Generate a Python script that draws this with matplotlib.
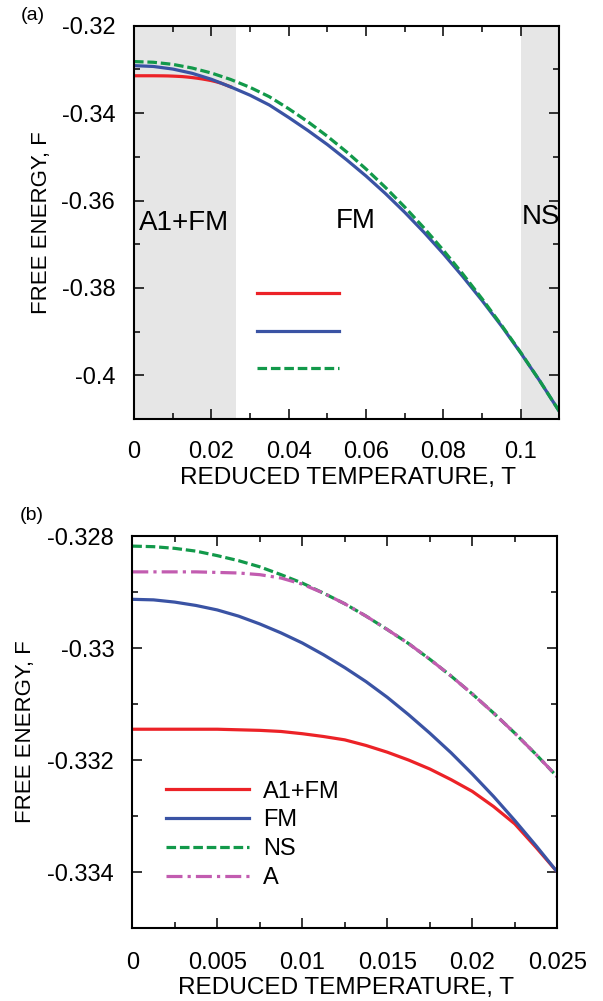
import matplotlib
matplotlib.use('Agg')
import matplotlib.pyplot as plt
from matplotlib.ticker import FixedLocator, MultipleLocator

plt.rcParams['font.family'] = ['Liberation Sans', 'DejaVu Sans']

# panel (a): wide temperature range
t_a = [0, 0.005, 0.01, 0.015, 0.02, 0.025, 0.03, 0.035, 0.04, 0.045, 0.05,
       0.055, 0.06, 0.065, 0.07, 0.075, 0.08, 0.085, 0.09, 0.095, 0.1,
       0.105, 0.11]
fm_a = [-0.32913, -0.32932, -0.32991, -0.33088, -0.33225, -0.3340, -0.3359,
        -0.33815, -0.3410, -0.3440, -0.3472, -0.3507, -0.3544, -0.3584,
        -0.3627, -0.3673, -0.3722, -0.3774, -0.3829, -0.3887, -0.3949,
        -0.4014, -0.4083]
ns_a = [-0.32820, -0.32836, -0.32884, -0.32967, -0.33082, -0.3323, -0.3341,
        -0.33625, -0.3390, -0.3420, -0.3453, -0.3489, -0.3528, -0.3570,
        -0.3615, -0.3663, -0.3714, -0.3768, -0.3825, -0.3885, -0.3948,
        -0.4014, -0.4083]

# panel (b): low temperature close-up
t_b = [0, 0.00125, 0.0025, 0.00375, 0.005, 0.00625, 0.0075, 0.00875, 0.01,
       0.01125, 0.0125, 0.01375, 0.015, 0.01625, 0.0175, 0.01875, 0.02,
       0.02125, 0.0225, 0.02375, 0.025]
a1fm_b = [-0.33145, -0.33145, -0.33145, -0.33145, -0.33145, -0.33146,
          -0.33147, -0.33149, -0.33153, -0.33158, -0.33164, -0.33174,
          -0.33186, -0.33200, -0.33216, -0.33235, -0.33256, -0.33283,
          -0.33314, -0.33356, -0.33400]
fm_b = [-0.32913, -0.32914, -0.32918, -0.32924, -0.32932, -0.32943, -0.32957,
        -0.32973, -0.32991, -0.33012, -0.33035, -0.33060, -0.33088, -0.33119,
        -0.33152, -0.33187, -0.33225, -0.33265, -0.33308, -0.33353, -0.33400]
ns_b = [-0.32818, -0.32819, -0.32822, -0.32827, -0.32835, -0.32844, -0.32855,
        -0.32869, -0.32884, -0.32902, -0.32921, -0.32943, -0.32967, -0.32992,
        -0.33020, -0.33050, -0.33082, -0.33116, -0.33152, -0.33190, -0.33230]
a_b = [-0.32864, -0.32864, -0.32864, -0.32864, -0.32865, -0.32866, -0.32869,
       -0.32875, -0.32886, -0.32902, -0.32921, -0.32943, -0.32967, -0.32992,
       -0.33020, -0.33050, -0.33082, -0.33116, -0.33152, -0.33190, -0.33230]

labels = ['A1+FM', 'FM', 'NS', 'A']
xticks_a = [0, 0.02, 0.04, 0.06, 0.08, 0.1]
xlabels_a = ['0', '0.02', '0.04', '0.06', '0.08', '0.1']
yticks_a = [-0.32, -0.34, -0.36, -0.38, -0.40]
ylabels_a = ['-0.32', '-0.34', '-0.36', '-0.38', '-0.4']
xticks_b = [0, 0.005, 0.01, 0.015, 0.02, 0.025]
xlabels_b = ['0', '0.005', '0.01', '0.015', '0.02', '0.025']
yticks_b = [-0.328, -0.33, -0.332, -0.334]
ylabels_b = ['-0.328', '-0.33', '-0.332', '-0.334']

RED = '#ec2227'
BLUE = '#3a53a4'
GREEN = '#12994a'
MAG = '#c25cb0'
SHADE = '#e6e6e6'
LW = 2.3
FS = 17


def style_axes(ax, xpad, ypad):
    for s in ax.spines.values():
        s.set_linewidth(1.5)
    ax.tick_params(which='both', direction='in', top=True, right=True,
                   width=1.1, labelsize=FS)
    ax.tick_params(which='major', length=7)
    ax.tick_params(which='minor', length=4)
    ax.tick_params(axis='x', pad=xpad)
    ax.tick_params(axis='y', pad=ypad)


fig = plt.figure(figsize=(6.03, 10.01), dpi=100)

# ---- panel (a)
ax1 = fig.add_axes([0.2222, 0.5814, 0.7056, 0.3929])
ax1.axvspan(0, 0.0265, color=SHADE, lw=0, zorder=0)
ax1.axvspan(0.1, 0.11, color=SHADE, lw=0, zorder=0)
l1, = ax1.plot(t_b, a1fm_b, color=RED, lw=LW)
l2, = ax1.plot(t_a, fm_a, color=BLUE, lw=LW)
l3, = ax1.plot(t_a, ns_a, color=GREEN, lw=LW, dashes=(3, 1.2))
ax1.set_xlim(0, 0.11)
ax1.set_ylim(-0.41, -0.32)
ax1.xaxis.set_major_locator(FixedLocator(xticks_a))
ax1.set_xticklabels(xlabels_a)
ax1.xaxis.set_minor_locator(MultipleLocator(0.01))
ax1.yaxis.set_major_locator(FixedLocator(yticks_a))
ax1.set_yticklabels(ylabels_a)
ax1.yaxis.set_minor_locator(MultipleLocator(0.01))
style_axes(ax1, 16, 13.5)
ax1.set_xlabel('REDUCED TEMPERATURE, T', fontsize=17.6)
ax1.set_ylabel('FREE ENERGY, F', fontsize=16)
ax1.xaxis.set_label_coords(0.503, -0.122)
ax1.yaxis.set_label_coords(-0.193, 0.5)
ax1.text(0.0129, -0.3652, 'A1+FM', fontsize=20, ha='center', va='center')
ax1.text(0.0574, -0.3646, 'FM', fontsize=20, ha='center', va='center')
ax1.text(0.1052, -0.3638, 'NS', fontsize=20, ha='center', va='center')
ax1.legend([l1, l2, l3], ['', '', ''], loc='upper left',
           bbox_to_anchor=(0.288, 0.342), frameon=False, fontsize=FS,
           borderpad=0, borderaxespad=0, handlelength=3.5,
           labelspacing=0.66, handletextpad=0.6)

# ---- panel (b)
ax2 = fig.add_axes([0.2194, 0.0729, 0.7048, 0.3916])
h1, = ax2.plot(t_b, a1fm_b, color=RED, lw=LW)
h2, = ax2.plot(t_b, fm_b, color=BLUE, lw=LW)
h3, = ax2.plot(t_b, ns_b, color=GREEN, lw=LW, dashes=(3, 1.2))
h4, = ax2.plot(t_b, a_b, color=MAG, lw=LW, dashes=(5, 1.6, 1, 1.6))
ax2.set_xlim(0, 0.025)
ax2.set_ylim(-0.335, -0.328)
ax2.xaxis.set_major_locator(FixedLocator(xticks_b))
ax2.set_xticklabels(xlabels_b)
ax2.xaxis.set_minor_locator(MultipleLocator(0.0025))
ax2.yaxis.set_major_locator(FixedLocator(yticks_b))
ax2.set_yticklabels(ylabels_b)
ax2.yaxis.set_minor_locator(MultipleLocator(0.001))
style_axes(ax2, 17, 13)
ax2.set_xlabel('REDUCED TEMPERATURE, T', fontsize=17.6)
ax2.set_ylabel('FREE ENERGY, F', fontsize=16)
ax2.xaxis.set_label_coords(0.502, -0.125)
ax2.yaxis.set_label_coords(-0.227, 0.5)
ax2.legend([h1, h2, h3, h4], labels, loc='upper left',
           bbox_to_anchor=(0.080, 0.376), frameon=False, fontsize=FS,
           borderpad=0, borderaxespad=0, handlelength=3.5,
           labelspacing=0.29, handletextpad=0.6)

fig.text(0.035, 0.985, '(a)', fontsize=14, ha='left', va='center')
fig.text(0.032, 0.485, '(b)', fontsize=14, ha='left', va='center')

fig.savefig('out.png', dpi=100)
